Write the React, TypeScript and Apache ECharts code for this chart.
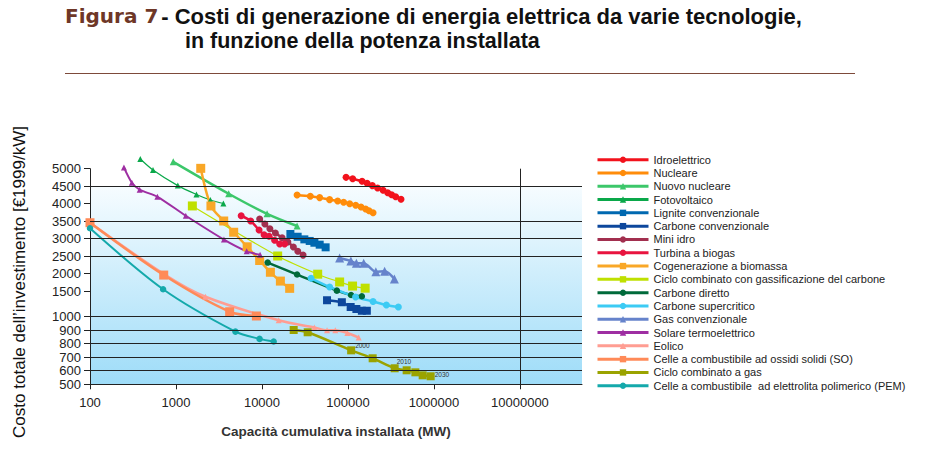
import React, { useEffect, useRef } from 'react';
import * as echarts from 'echarts';

// ---------- data ----------
const seriesNames = [
  'Idroelettrico',
  'Nucleare',
  'Nuovo nucleare',
  'Fotovoltaico',
  'Lignite convenzionale',
  'Carbone convenzionale',
  'Mini idro',
  'Turbina a biogas',
  'Cogenerazione a biomassa',
  'Ciclo combinato con gassificazione del carbone',
  'Carbone diretto',
  'Carbone supercritico',
  'Gas convenzionale',
  'Solare termoelettrico',
  'Eolico',
  'Celle a combustibile ad ossidi solidi (SO)',
  'Ciclo combinato a gas',
  'Celle a combustibile  ad elettrolita polimerico (PEM)',
];

const idroX = [95000, 113500, 146000, 167000, 192000, 221000, 256000, 290000, 322000, 359000, 414000];
const idroY = [4760, 4720, 4650, 4595, 4530, 4460, 4395, 4320, 4260, 4200, 4125];

const nucX = [25600, 36500, 46900, 61200, 75900, 89100, 104700, 123000, 141900, 160600, 175900, 195900];
const nucY = [4255, 4215, 4175, 4115, 4075, 4035, 3995, 3950, 3900, 3845, 3795, 3735];

const nuovoX = [930, 4100, 11460, 25600];
const nuovoY = [5190, 4290, 3705, 3355];

const fotoX = [385, 540, 1050, 1730, 2510, 3560];
const fotoY = [5270, 4965, 4530, 4270, 4105, 4000];

const ligniteX = [21400, 26000, 31100, 35900, 40700, 46900, 55000];
const ligniteY = [3125, 3045, 2970, 2925, 2875, 2820, 2745];

const carbConvX = [57100, 84900, 107500, 125300, 145100, 165800];
const carbConvY = [1315, 1275, 1180, 1140, 1105, 1105];

const miniIdroX = [9400, 10800, 12360, 14320, 17140, 20000, 23200, 26100, 30060];
const miniIdroY = [3555, 3415, 3275, 3155, 3015, 2895, 2755, 2635, 2525];

const biogasX = [5730, 7390, 9250, 10570, 12100, 14020, 16070, 18320];
const biogasY = [3650, 3500, 3240, 3100, 3060, 2945, 2840, 2840];

const biomassaX = [1940, 2550, 3590, 4690, 6730, 9400, 12530, 16370, 20990];
const biomassaY = [5010, 3930, 3500, 3175, 2760, 2370, 2030, 1780, 1575];

const igccX = [1550, 15230, 44460, 80000, 113100, 158500];
const igccY = [3930, 2500, 1975, 1755, 1640, 1580];

const dirX = [11650, 25600, 74300, 108700, 145100];
const dirY = [2310, 1965, 1510, 1420, 1395];

const superX = [37240, 61240, 122500, 195900, 279800, 385500];
const superY = [1860, 1615, 1380, 1290, 1220, 1180];

const gasConvX = [80000, 108100, 125300, 152300, 211000, 267000, 346500];
const gasConvY = [2440, 2355, 2290, 2290, 2045, 2060, 1840];

const solareX = [248, 307, 378, 608, 1300, 3610, 6640, 9510];
const solareY = [5035, 4610, 4410, 4200, 3650, 2965, 2635, 2535];

const eolicoX = [100, 753, 2200, 15640, 40650, 57100, 71300, 98400, 133200];
const eolicoY = [3450, 1950, 1385, 970, 920, 900, 900, 880, 845];

const cellSOX = [100, 720, 4210, 8610];
const cellSOY = [3450, 1950, 1085, 1000];

const gasCCX = [23380, 33980, 108900, 193800, 349300, 481500, 608000, 739300, 916000];
const gasCCY = [902, 885, 750, 692, 618, 603, 588, 566, 559];
const gasCCLabels = ['', '', '2000', '', '2010', '', '', '', '2030'];

const pemX = [100, 708, 4910, 9380, 13680];
const pemY = [3290, 1550, 890, 835, 815];

// y axis tick labels and the (non-uniform) scale they define
const yTickValues = [500, 600, 700, 800, 900, 1000, 1500, 2000, 2500, 3000, 3500, 4000, 4500, 5000];
const yTickPos = [0, 13.6, 27.1, 40.8, 54, 68.3, 93.3, 111, 128.3, 146, 163.3, 180.8, 197.6, 215.6];
const yGridValues = [600, 700, 800, 900, 1000, 2500, 3000, 3500, 4500];
const xGridValues = [10000000];

function yToPos(v: number): number {
  const n = yTickValues.length;
  if (v <= yTickValues[0]) {
    const s = (yTickPos[1] - yTickPos[0]) / (yTickValues[1] - yTickValues[0]);
    return yTickPos[0] + (v - yTickValues[0]) * s;
  }
  for (let i = 1; i < n; i++) {
    if (v <= yTickValues[i]) {
      const t = (v - yTickValues[i - 1]) / (yTickValues[i] - yTickValues[i - 1]);
      return yTickPos[i - 1] + t * (yTickPos[i] - yTickPos[i - 1]);
    }
  }
  const s = (yTickPos[n - 1] - yTickPos[n - 2]) / (yTickValues[n - 1] - yTickValues[n - 2]);
  return yTickPos[n - 1] + (v - yTickValues[n - 1]) * s;
}

// ---------- styles ----------
type Sty = { color: string; symbol: string; size: number; width: number };
const styles: Sty[] = [
  { color: '#f2121c', symbol: 'circle', size: 7, width: 2.5 },
  { color: '#ff8c0a', symbol: 'circle', size: 7, width: 2.5 },
  { color: '#3cc76a', symbol: 'triangle', size: 7, width: 2.5 },
  { color: '#0aa84a', symbol: 'triangle', size: 6, width: 1.2 },
  { color: '#0068b0', symbol: 'rect', size: 8, width: 2.5 },
  { color: '#0d479c', symbol: 'rect', size: 8, width: 2.5 },
  { color: '#a22f4f', symbol: 'circle', size: 7, width: 2.5 },
  { color: '#e8143f', symbol: 'circle', size: 7, width: 2.5 },
  { color: '#f9a727', symbol: 'rect', size: 9, width: 2.5 },
  { color: '#bfe000', symbol: 'rect', size: 9, width: 1.2 },
  { color: '#006a3a', symbol: 'circle', size: 6.5, width: 2.5 },
  { color: '#3ccbf4', symbol: 'circle', size: 7, width: 2.5 },
  { color: '#6683cb', symbol: 'triangle', size: 9, width: 2.5 },
  { color: '#9e2ea2', symbol: 'triangle', size: 6, width: 2 },
  { color: '#ff9d92', symbol: 'triangle', size: 6, width: 2.5 },
  { color: '#ff8a58', symbol: 'rect', size: 9, width: 2.5 },
  { color: '#9aa300', symbol: 'rect', size: 8, width: 2.5 },
  { color: '#14a9ab', symbol: 'circle', size: 6.5, width: 2 },
];

const allX = [idroX, nucX, nuovoX, fotoX, ligniteX, carbConvX, miniIdroX, biogasX, biomassaX, igccX, dirX, superX, gasConvX, solareX, eolicoX, cellSOX, gasCCX, pemX];
const allY = [idroY, nucY, nuovoY, fotoY, ligniteY, carbConvY, miniIdroY, biogasY, biomassaY, igccY, dirY, superY, gasConvY, solareY, eolicoY, cellSOY, gasCCY, pemY];

const labelOffsets: Record<string, number[]> = { '2000': [0, -5], '2010': [-2, -7], '2030': [0, -2] };

function buildSeries() {
  const out: any[] = [];
  out.push({
    name: 'grid',
    type: 'line',
    data: [],
    z: 1,
    silent: true,
    markLine: {
      silent: true,
      symbol: ['none', 'none'],
      animation: false,
      label: { show: false },
      lineStyle: { color: '#222222', width: 1, type: 'solid' },
      emphasis: { disabled: true },
      data: [
        ...yGridValues.map((v) => ({ yAxis: yToPos(v) })),
        ...xGridValues.map((v) => ({ xAxis: v })),
      ],
    },
  });
  seriesNames.forEach((name, si) => {
    const st = styles[si];
    const xs = allX[si];
    const ys = allY[si];
    const data = xs.map((x, i) => {
      const item: any = { value: [x, yToPos(ys[i])] };
      if (si === 16 && gasCCLabels[i]) {
        item.label = {
          show: true,
          formatter: gasCCLabels[i],
          position: 'right',
          distance: 0,
          offset: labelOffsets[gasCCLabels[i]],
          fontSize: 6.5,
          color: '#333',
          fontFamily: 'Liberation Sans, Arial, sans-serif',
        };
      }
      return item;
    });
    out.push({
      name,
      type: 'line',
      data,
      smooth: 0.3,
      clip: false,
      symbol: st.symbol,
      symbolSize: st.size,
      showSymbol: true,
      color: st.color,
      lineStyle: { color: st.color, width: st.width },
      itemStyle: { color: st.color },
      z: 3,
    });
  });
  return out;
}

const FONT = 'Liberation Sans, Arial, sans-serif';

export default function App() {
  const ref = useRef<HTMLDivElement>(null);
  useEffect(() => {
    if (!ref.current) return;
    const chart = echarts.init(ref.current, null, { renderer: 'svg' });
    const option: any = {
      animation: false,
      backgroundColor: '#ffffff',
      textStyle: { fontFamily: FONT },
      grid: {
        show: true,
        left: 90,
        top: 168.7,
        width: 492,
        height: 215.6,
        borderWidth: 0,
        backgroundColor: new echarts.graphic.LinearGradient(0, 0, 0, 1, [
          { offset: 0, color: '#ffffff' },
          { offset: 0.083, color: '#ffffff' },
          { offset: 0.086, color: '#f6fcff' },
          { offset: 1, color: '#9edcf8' },
        ]),
      },
      xAxis: {
        type: 'log',
        logBase: 10,
        min: 100,
        max: 52700000,
        axisLine: { show: true, lineStyle: { color: '#222222', width: 1 } },
        axisTick: { show: true, length: 5, lineStyle: { color: '#222222' } },
        minorTick: { show: false },
        splitLine: { show: false },
        axisLabel: {
          fontSize: 13,
          color: '#222222',
          margin: 12,
          fontFamily: FONT,
          showMaxLabel: false,
          formatter: (v: number) => String(Math.round(v)),
        },
        name: 'Capacità cumulativa installata (MW)',
        nameLocation: 'middle',
        nameGap: 40,
        nameTextStyle: { fontSize: 13.5, fontWeight: 'bold', color: '#333333', fontFamily: FONT },
      },
      yAxis: {
        type: 'value',
        min: 0,
        max: yTickPos[yTickPos.length - 1],
        axisLine: { show: true, lineStyle: { color: '#222222', width: 1 } },
        axisTick: { show: true, length: 6, customValues: yTickPos, lineStyle: { color: '#222222' } },
        splitLine: { show: false },
        axisLabel: {
          customValues: yTickPos,
          fontSize: 13,
          color: '#222222',
          margin: 9,
          fontFamily: FONT,
          formatter: (v: number) => {
            const i = yTickPos.findIndex((p) => Math.abs(p - v) < 0.05);
            return i >= 0 ? String(yTickValues[i]) : '';
          },
        },
      },
      legend: {
        orient: 'vertical',
        left: 596,
        top: 153,
        padding: 0,
        itemWidth: 51,
        itemHeight: 8,
        itemGap: 0,
        selectedMode: false,
        data: seriesNames,
        lineStyle: { width: 3 },
        textStyle: { fontSize: 11, color: '#222222', fontFamily: FONT, lineHeight: 13.3 },
      },
      graphic: [
        {
          type: 'text',
          left: 65,
          top: 5,
          style: {
            text:
              '{f|Figura 7}{b|- Costi di generazione di energia elettrica da varie tecnologie,}\n' +
              '{c|in funzione della potenza installata}',
            rich: {
              f: { font: 'bold 20px "DejaVu Sans", sans-serif', fill: '#6e3727', lineHeight: 24.6, padding: [0, 3, 0, 0] },
              b: { font: 'bold 22px "Liberation Sans", Arial, sans-serif', fill: '#111111', lineHeight: 24.6 },
              c: { font: 'bold 21.5px "Liberation Sans", Arial, sans-serif', fill: '#111111', lineHeight: 24.6, padding: [0, 0, 0, 120] },
            },
          },
        },
        {
          type: 'line',
          shape: { x1: 65, y1: 73.5, x2: 855, y2: 73.5 },
          style: { stroke: '#7d4a3a', lineWidth: 1 },
        },
        {
          type: 'text',
          x: 19,
          y: 282,
          rotation: Math.PI / 2,
          style: {
            text: 'Costo totale dell’investimento [€1999/kW]',
            font: '17px Liberation Sans, Arial, sans-serif',
            fill: '#111111',
            align: 'center',
            verticalAlign: 'middle',
          },
        },
      ],
      series: buildSeries(),
    };
    chart.setOption(option);
    return () => chart.dispose();
  }, []);
  return <div ref={ref} style={{ position: 'absolute', left: 0, top: 0, width: 930, height: 452 }} />;
}
